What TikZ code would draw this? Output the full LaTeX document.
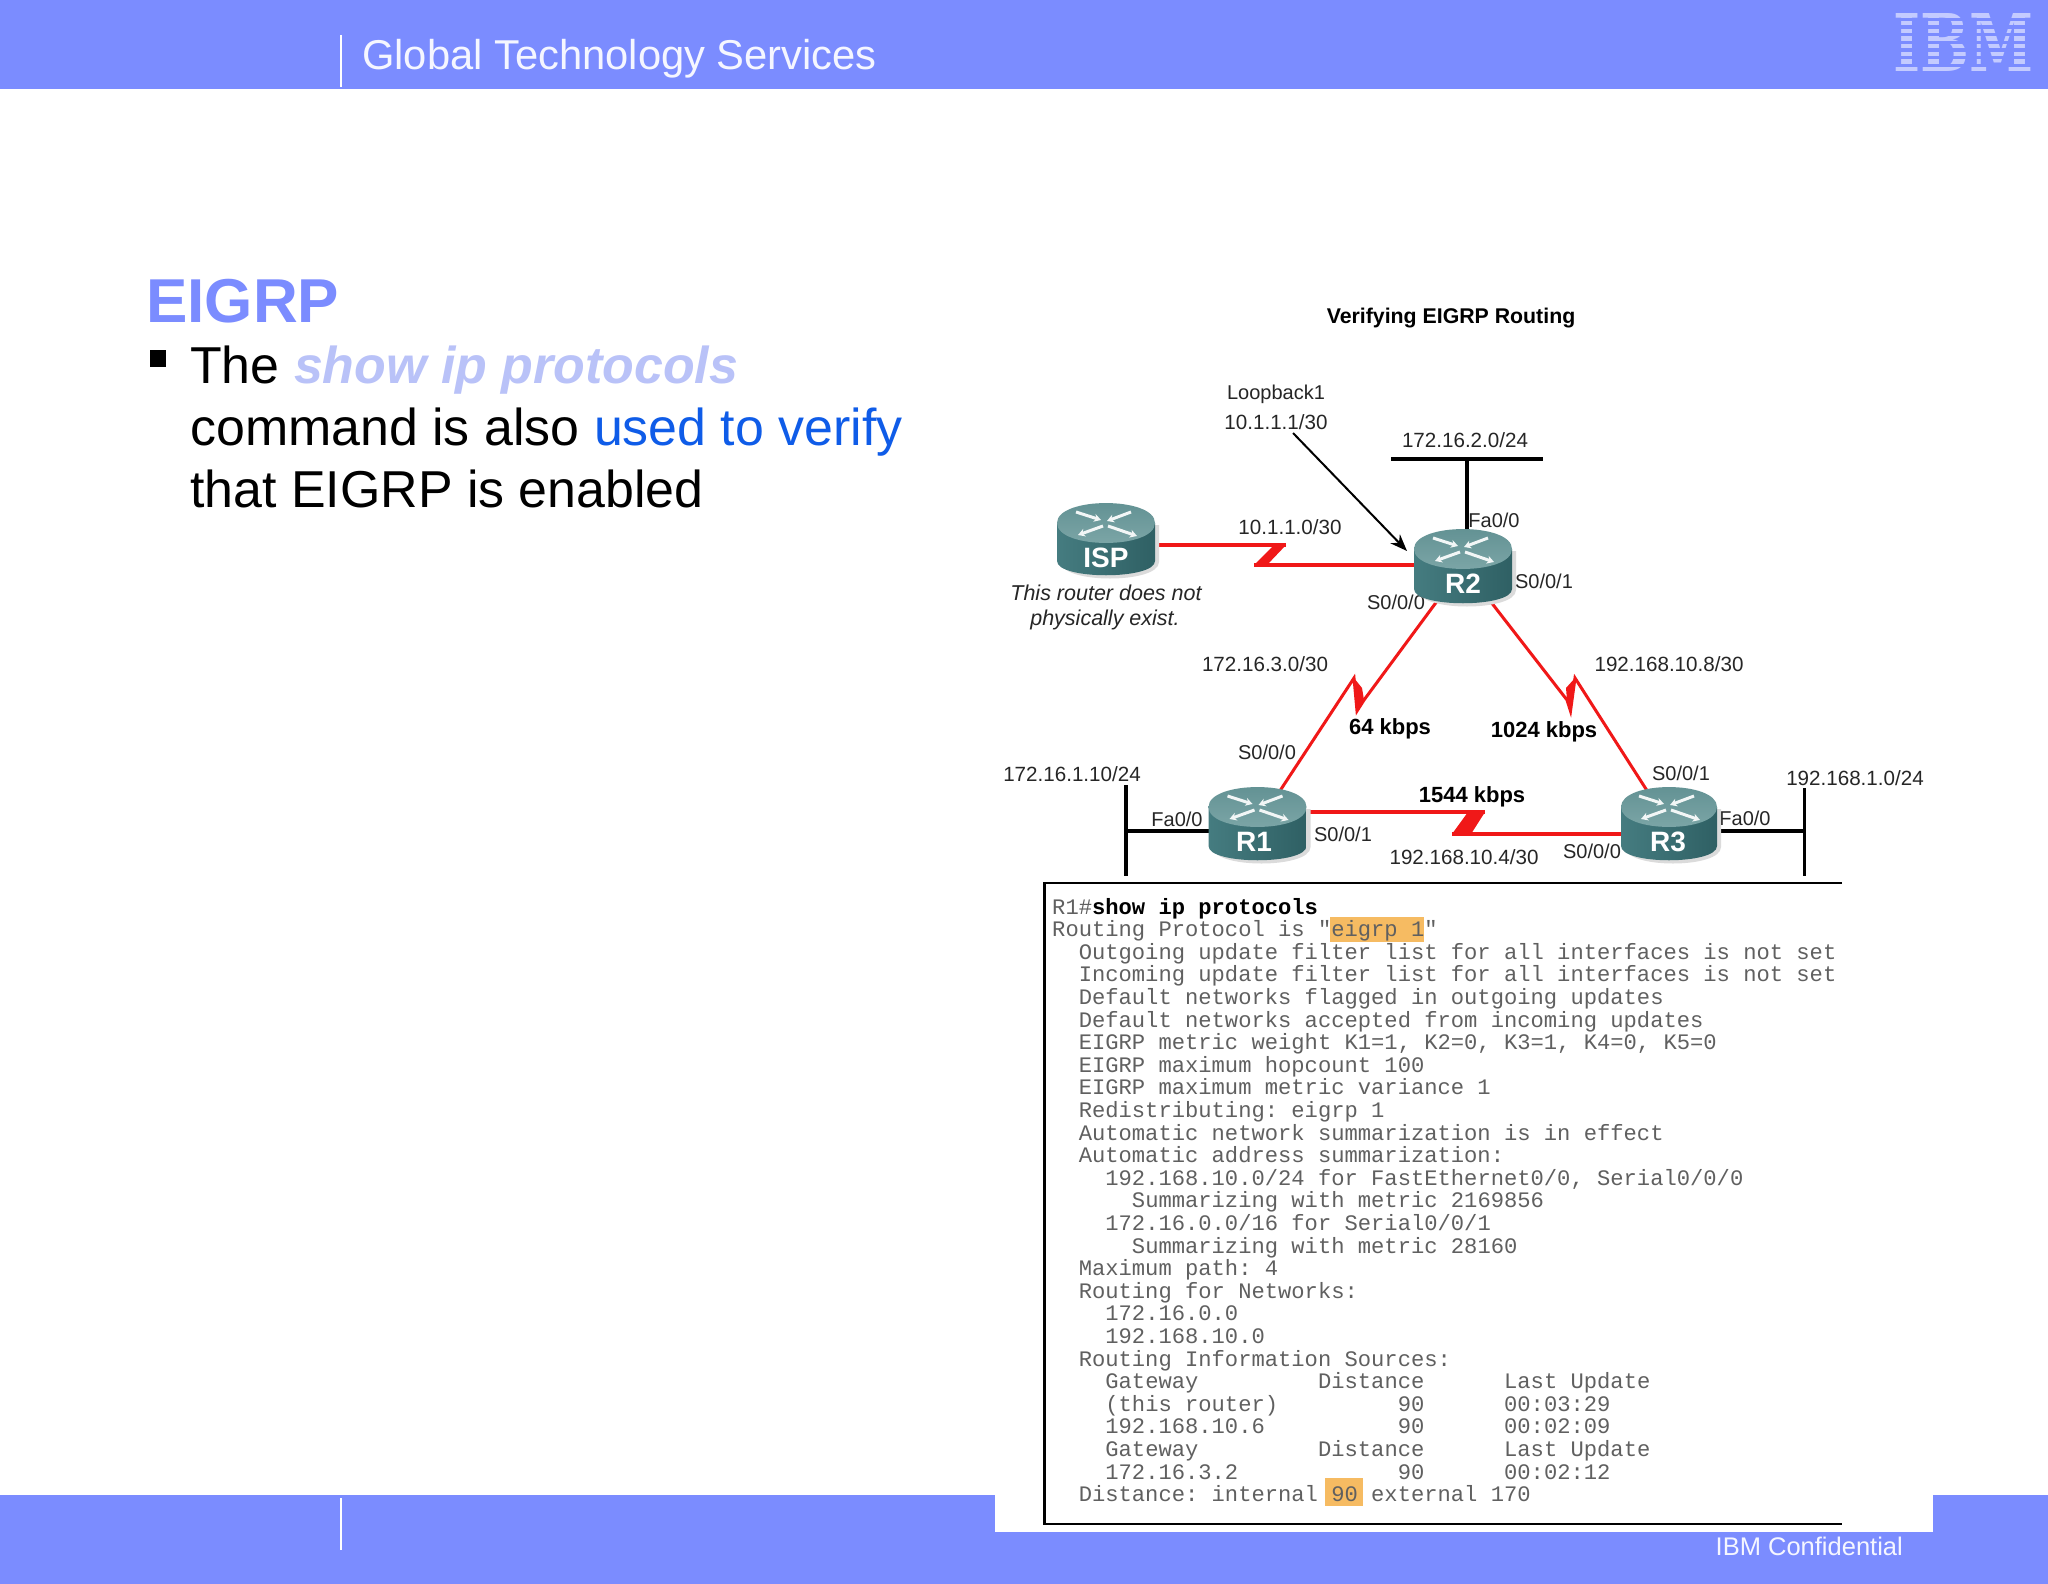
\documentclass[tikz,border=0pt]{standalone}
\usepackage{fontspec}
\usepackage{graphicx}
\usetikzlibrary{arrows.meta}
\setmainfont{Liberation Sans}
\newfontfamily\cmono{Liberation Mono}
\newfontfamily\lserif{DejaVu Serif}
\definecolor{hdr}{HTML}{7B8CFF}
\definecolor{lightit}{HTML}{B9C2F8}
\definecolor{verify}{HTML}{0F5CE8}
\definecolor{monog}{HTML}{606060}
\definecolor{hilite}{HTML}{F6BB62}
\definecolor{wan}{HTML}{F01818}
\definecolor{rleft}{HTML}{457C80}
\definecolor{rmid}{HTML}{6FA0A2}
\definecolor{rright}{HTML}{2F6064}
\definecolor{rtop}{HTML}{5F8F91}
\definecolor{rtopl}{HTML}{7FA8A9}
\pgfdeclarelayer{front}
\pgfsetlayers{main,front}
\newcommand{\fsz}[1]{\fontsize{#1}{#1}\selectfont}
\tikzset{
  x=1pt,y=-1pt,
  lbl/.style={inner sep=0,yshift=-1pt,text=black!85,font=\fsz{20.6}},
  portlbl/.style={inner sep=0,yshift=-1pt,text=black!85,font=\fsz{20}},
  blbl/.style={inner sep=0,yshift=-2pt,text=black,font=\fsz{22}\bfseries},
  nolbl/.style={inner sep=0,yshift=-1pt,text=black!85,font=\fsz{21.5}\itshape},
  rname/.style={inner sep=0,text=white,font=\fsz{28}\bfseries},
  bodytxt/.style={inner sep=0,anchor=base west,text=black,font=\fsz{51.9}},
  monoline/.style={inner sep=0,anchor=base west,text=monog,font=\cmono\fsz{22.15}\frenchspacing},
  wanline/.style={draw=wan,line width=3pt,line join=miter,miter limit=12},
  wanfill/.style={fill=wan,draw=none},
  lanline/.style={draw=black,line width=4pt},
  xarrow/.style={draw=white!92!rtop,line width=3pt,-{Stealth[length=7pt,width=8pt]}},
}
% cx, top, bottom, half width
\newcommand{\routerbody}[4]{%
  \fill[black!14] ({#1-#4+4},{#2+22}) -- ({#1-#4+4},{#3-13}) .. controls ({#1-#4+4},{#3+9}) and ({#1+#4+4},{#3+9}) .. ({#1+#4+4},{#3-13}) -- ({#1+#4+4},{#2+22}) -- cycle;
  \shade[left color=rleft,middle color=rmid,right color=rright]
    ({#1-#4},{#2+20}) -- ({#1-#4},{#3-14}) .. controls ({#1-#4},{#3+5}) and ({#1+#4},{#3+5}) .. ({#1+#4},{#3-14}) -- ({#1+#4},{#2+20}) -- cycle;
  \shade[top color=rtop,bottom color=rtopl]
    ({#1-#4},{#2+20}) .. controls ({#1-#4},{#2-6.6}) and ({#1+#4},{#2-6.6}) .. ({#1+#4},{#2+20})
    .. controls ({#1+#4},{#2+46.6}) and ({#1-#4},{#2+46.6}) .. ({#1-#4},{#2+20}) -- cycle;
  \draw[xarrow] ({#1-30},{#2+9}) -- ({#1-5},{#2+17});
  \draw[xarrow] ({#1+2},{#2+23}) -- ({#1+31},{#2+33});
  \draw[xarrow] ({#1+25},{#2+9}) -- ({#1+1},{#2+18});
  \draw[xarrow] ({#1-3},{#2+23}) -- ({#1-28},{#2+32});
}
\begin{document}
\begin{tikzpicture}
\useasboundingbox (0,0) rectangle (2048,1584);
\fill[white] (0,0) rectangle (2048,1584);
% header and footer
\fill[hdr] (0,0) rectangle (2048,89);
\fill[hdr] (0,1495) rectangle (2048,1584);
\fill[white] (995,1495) rectangle (1933,1532);
\draw[white,line width=1.5pt] (341,35) -- (341,87);
\draw[white,line width=1.5pt] (341,1498) -- (341,1550);
\node[inner sep=0,anchor=base west,text=white!92!hdr,font=\fsz{41.7}] (title) at (362,70) {Global Technology Services};
\node[inner sep=0,anchor=base east,text=white!92!hdr,font=\fsz{25.5}] (conf) at (1903,1555) {IBM Confidential};
% IBM logo
\node[inner sep=0,anchor=north west,text=white!55!hdr,font=\lserif\bfseries] (logo) at (1893,13) {\resizebox{140pt}{58pt}{IBM}};
\foreach \k in {0,...,6} \fill[hdr] (1890,{17.6+\k*7.72}) rectangle (2036,{20.8+\k*7.72});
% slide text
\node[inner sep=0,anchor=base west,text=hdr,font=\fsz{62}\bfseries] (heading) at (146,322) {EIGRP};
\fill[black] (150,350) rectangle (166,367);
\node[bodytxt] (b1) at (190,383) {The \textcolor{lightit}{\bfseries\itshape show ip protocols}};
\node[bodytxt] (b2) at (190,445) {command is also \textcolor{verify}{used to verify}};
\node[bodytxt] (b3) at (190,507) {that EIGRP is enabled};
% diagram title and labels
\node[blbl,font=\fsz{21.3}\bfseries] (vt) at (1451,316) {Verifying EIGRP Routing};
\node[lbl,font=\fsz{20}] (lb1) at (1276,393) {Loopback1};
\node[lbl] (lb2) at (1276,421) {10.1.1.1/30};
\node[lbl] (n1) at (1465,439) {172.16.2.0/24};
\node[portlbl] (p1) at (1494,519) {Fa0/0};
\node[lbl] (n2) at (1290,526) {10.1.1.0/30};
\node[portlbl] (p2) at (1544,580) {S0/0/1};
\node[portlbl] (p3) at (1396,601) {S0/0/0};
\node[nolbl] (noexist1) at (1106,592) {This router does not};
\node[nolbl] (noexist2) at (1105,619) {physically exist.};
\node[lbl] (n3) at (1265,663) {172.16.3.0/30};
\node[lbl] (n4) at (1669,663) {192.168.10.8/30};
\node[blbl] (s1) at (1390,727) {64 kbps};
\node[blbl] (s2) at (1544,730) {1024 kbps};
\node[portlbl] (p4) at (1267,751) {S0/0/0};
\node[portlbl] (p5) at (1681,772) {S0/0/1};
\node[lbl] (n5) at (1072,773) {172.16.1.10/24};
\node[lbl] (n6) at (1855,777) {192.168.1.0/24};
\node[blbl] (s3) at (1472,795) {1544 kbps};
\node[portlbl] (p6) at (1177,818) {Fa0/0};
\node[portlbl] (p7) at (1745,817) {Fa0/0};
\node[portlbl] (p8) at (1343,833) {S0/0/1};
\node[portlbl] (p9) at (1592,850) {S0/0/0};
\node[lbl] (n7) at (1464,856) {192.168.10.4/30};
% routers
\coordinate (ispc) at (1106,539);
\coordinate (r2c) at (1463,566);
\coordinate (r1c) at (1257.5,825);
\coordinate (r3c) at (1669,825);
\begin{pgfonlayer}{front}
\routerbody{1106}{503}{575}{49}
\node[rname] (isp) at (1106,558) {ISP};
\routerbody{1463}{529}{603}{49}
\node[rname] (r2) at (1463,584) {R2};
\routerbody{1257.5}{787}{860}{49}
\node[rname] (r1) at (1254,842) {R1};
\routerbody{1669}{787}{860}{48}
\node[rname] (r3) at (1668,842) {R3};
\end{pgfonlayer}
% LAN segments
\coordinate (lanTL) at (1391,459);
\coordinate (lanTR) at (1543,459);
\coordinate (lanTM) at (1466.5,459);
\draw[lanline] (lanTL) -- (lanTR);
\draw[lanline] (lanTM) -- (lanTM |- r2c);
\coordinate (lanLt) at (1126,785);
\coordinate (lanLb) at (1126,876);
\coordinate (lanLm) at (1126,831);
\draw[lanline,line width=3.5pt] (lanLt) -- (lanLb);
\draw[lanline] (lanLm) -- (r1c |- lanLm);
\coordinate (lanRt) at (1804.5,788);
\coordinate (lanRb) at (1804.5,876);
\coordinate (lanRm) at (1804.5,831);
\draw[lanline,line width=3.5pt] (lanRt) -- (lanRb);
\draw[lanline] (lanRm) -- (r3c |- lanRm);
% loopback arrow
\coordinate (loopS) at (1293,433);
\coordinate (loopE) at (1407,551);
\draw[black,line width=2pt,-{Stealth[length=17pt,width=13pt]}] (loopS) -- (loopE);
% WAN links
\coordinate (a1) at (1274,545);
\coordinate (a2) at (1286,545);
\coordinate (a3) at (1267,565);
\coordinate (a4) at (1254,565);
\fill[wanfill] (a1) -- (a2) -- (a3) -- (a4) -- cycle;
\draw[wanline,line width=4pt] (ispc |- a1) -- (a2);
\draw[wanline,line width=4pt] (a4) -- (r2c |- a4);
\coordinate (b1k) at (1364,700);
\coordinate (b2k) at (1357,711);
\coordinate (b3k) at (1354,678);
\fill[wanfill] (b3k) -- (b2k) -- (b1k) -- (1362,688) -- cycle;
\draw[wanline] (r2c) -- (b1k) -- (b2k) -- (b3k) -- (r1c);
\coordinate (c1k) at (1567,700);
\coordinate (c2k) at (1570.5,711);
\coordinate (c3k) at (1575,678);
\fill[wanfill] (c3k) -- (c2k) -- (c1k) -- (1566,688) -- cycle;
\draw[wanline] (r2c) -- (c1k) -- (c2k) -- (c3k) -- (r3c);
\coordinate (d1) at (1468,812);
\coordinate (d2) at (1485,812);
\coordinate (d3) at (1471,834);
\coordinate (d4) at (1452,834);
\fill[wanfill] (d1) -- (d2) -- (d3) -- (d4) -- cycle;
\draw[wanline,line width=4pt] (r1c |- d1) -- (d2);
\draw[wanline,line width=4pt] (d4) -- (r3c |- d4);
% terminal output
\fill[hilite] (1330,917) rectangle (1424,942);
\fill[hilite] (1325,1478) rectangle (1363,1506);
\coordinate (boxTR) at (1842,883);
\coordinate (boxTL) at (1044.5,883);
\coordinate (boxBL) at (1044.5,1524);
\coordinate (boxBR) at (1842,1524);
\draw[black,line width=2.5pt] (boxTR) -- (boxTL) -- (boxBL) -- (boxBR);
\foreach \t [count=\i] in {
{R1\#\textcolor{black}{\bfseries show ip protocols}},
{Routing Protocol is "eigrp 1"},
{~~Outgoing update filter list for all interfaces is not set},
{~~Incoming update filter list for all interfaces is not set},
{~~Default networks flagged in outgoing updates},
{~~Default networks accepted from incoming updates},
{~~EIGRP metric weight K1=1, K2=0, K3=1, K4=0, K5=0},
{~~EIGRP maximum hopcount 100},
{~~EIGRP maximum metric variance 1},
{~~Redistributing: eigrp 1},
{~~Automatic network summarization is in effect},
{~~Automatic address summarization:},
{~~~~192.168.10.0/24 for FastEthernet0/0, Serial0/0/0},
{~~~~~~Summarizing with metric 2169856},
{~~~~172.16.0.0/16 for Serial0/0/1},
{~~~~~~Summarizing with metric 28160},
{~~Maximum path: 4},
{~~Routing for Networks:},
{~~~~172.16.0.0},
{~~~~192.168.10.0},
{~~Routing Information Sources:},
{~~~~Gateway~~~~~~~~~Distance~~~~~~Last Update},
{~~~~(this router)~~~~~~~~~90~~~~~~00:03:29},
{~~~~192.168.10.6~~~~~~~~~~90~~~~~~00:02:09},
{~~~~Gateway~~~~~~~~~Distance~~~~~~Last Update},
{~~~~172.16.3.2~~~~~~~~~~~~90~~~~~~00:02:12},
{~~Distance: internal 90 external 170}}
  \node[monoline] (line\i) at (1052,{914+22.6*(\i-1)}) {\strut\t};
\end{tikzpicture}
\end{document}
